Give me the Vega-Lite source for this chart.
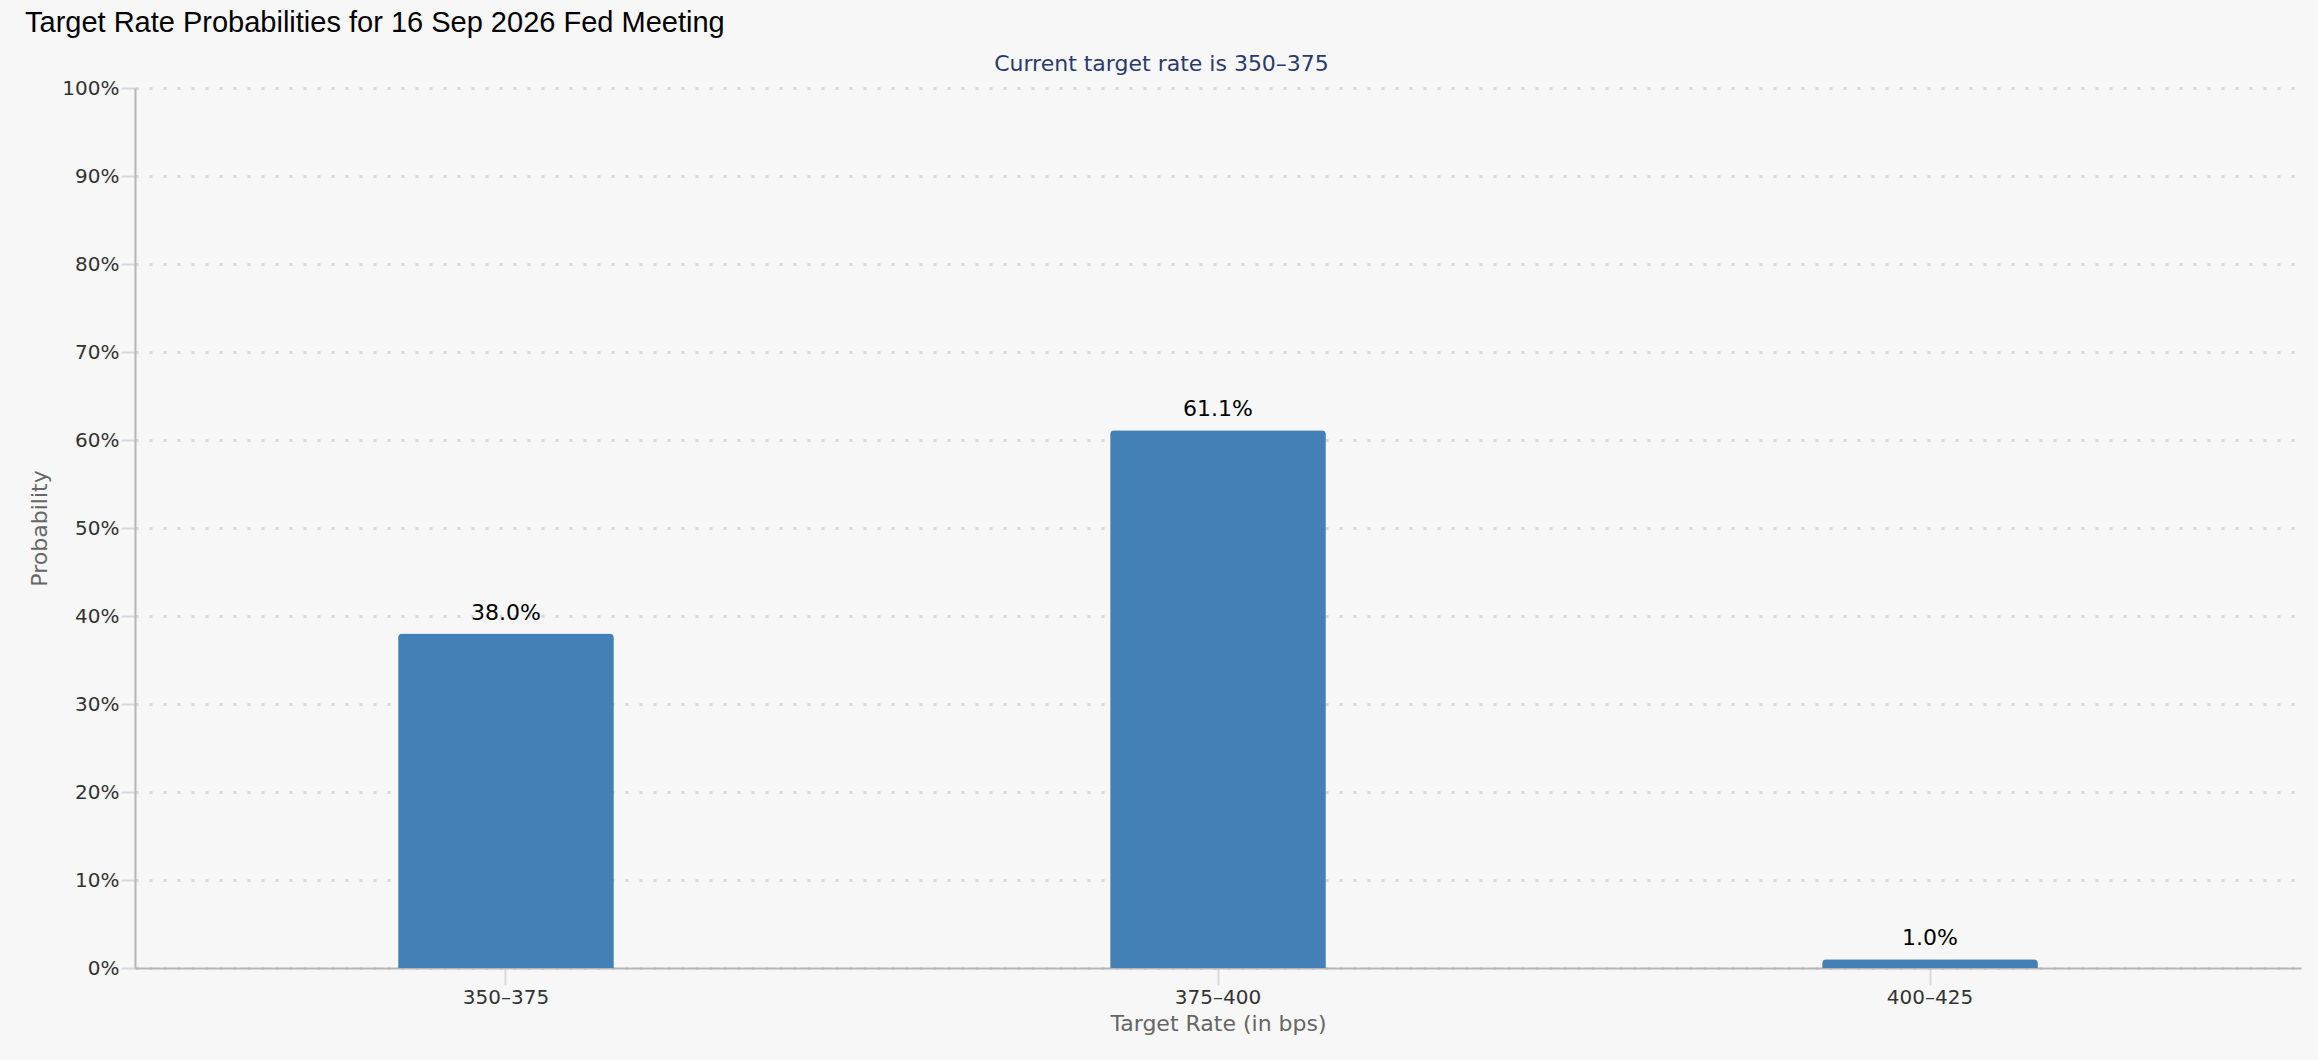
{
  "$schema": "https://vega.github.io/schema/vega-lite/v6.json",
  "autosize": {"type": "none"},
  "width": 2166,
  "height": 880,
  "padding": {"left": 135, "top": 88, "right": 17, "bottom": 92},
  "background": "#f7f7f7",
  "title": {
    "text": "Target Rate Probabilities for 16 Sep 2026 Fed Meeting",
    "anchor": "start",
    "frame": "group",
    "dx": -110,
    "offset": 14,
    "font": "Liberation Sans",
    "fontSize": 29,
    "fontWeight": "normal",
    "color": "#000000"
  },
  "data": {
    "values": [
      {"rate": "350–375", "prob": 0.38},
      {"rate": "375–400", "prob": 0.611},
      {"rate": "400–425", "prob": 0.01}
    ]
  },
  "layer": [
    {
      "mark": {
        "type": "bar",
        "color": "#4380b5",
        "width": {"band": 0.303},
        "cornerRadiusTopLeft": 4,
        "cornerRadiusTopRight": 4
      },
      "encoding": {
        "x": {
          "field": "rate",
          "type": "nominal",
          "sort": null,
          "scale": {"paddingInner": 0, "paddingOuter": 0.021},
          "axis": {
            "orient": "bottom",
            "title": "Target Rate (in bps)",
            "labelAngle": 0,
            "labelFont": "DejaVu Sans",
            "labelFontSize": 20,
            "labelColor": "#333333",
            "labelPadding": 2,
            "tickSize": 17,
            "tickColor": "#d8d8d8",
            "tickWidth": 2,
            "domainColor": "#b5b5b5",
            "domainWidth": 2,
            "grid": false,
            "titleFont": "DejaVu Sans",
            "titleFontSize": 22,
            "titleFontWeight": "normal",
            "titleColor": "#666666",
            "titlePadding": 6
          }
        },
        "y": {
          "field": "prob",
          "type": "quantitative",
          "scale": {"domain": [0, 1], "nice": false},
          "axis": {
            "title": "Probability",
            "values": [0, 0.1, 0.2, 0.3, 0.4, 0.5, 0.6, 0.7, 0.8, 0.9, 1],
            "format": ".0%",
            "labelFont": "DejaVu Sans",
            "labelFontSize": 20,
            "labelColor": "#333333",
            "labelPadding": 2,
            "tickSize": 14,
            "tickColor": "#d8d8d8",
            "tickWidth": 2,
            "domainColor": "#b5b5b5",
            "domainWidth": 2,
            "grid": true,
            "gridColor": "#d8d8d8",
            "gridWidth": 3,
            "gridDash": [3, 11],
            "titleFont": "DejaVu Sans",
            "titleFontSize": 22,
            "titleFontWeight": "normal",
            "titleColor": "#666666",
            "titlePadding": 10
          }
        }
      }
    },
    {
      "mark": {
        "type": "text",
        "baseline": "alphabetic",
        "dy": -14,
        "font": "DejaVu Sans",
        "fontSize": 22,
        "color": "#000000"
      },
      "encoding": {
        "x": {
          "field": "rate",
          "type": "nominal",
          "sort": null,
          "axis": {
            "orient": "top",
            "labels": false,
            "ticks": false,
            "domain": false,
            "grid": false,
            "title": "Current target rate is 350–375",
            "titleFont": "DejaVu Sans",
            "titleFontSize": 22,
            "titleFontWeight": "normal",
            "titleColor": "#2a3b6b",
            "titleX": 1026,
            "titleY": -18,
            "titleAlign": "center",
            "titleBaseline": "alphabetic"
          }
        },
        "y": {"field": "prob", "type": "quantitative"},
        "text": {"field": "prob", "type": "quantitative", "format": ".1%"}
      }
    }
  ],
  "config": {"view": {"stroke": null}}
}
